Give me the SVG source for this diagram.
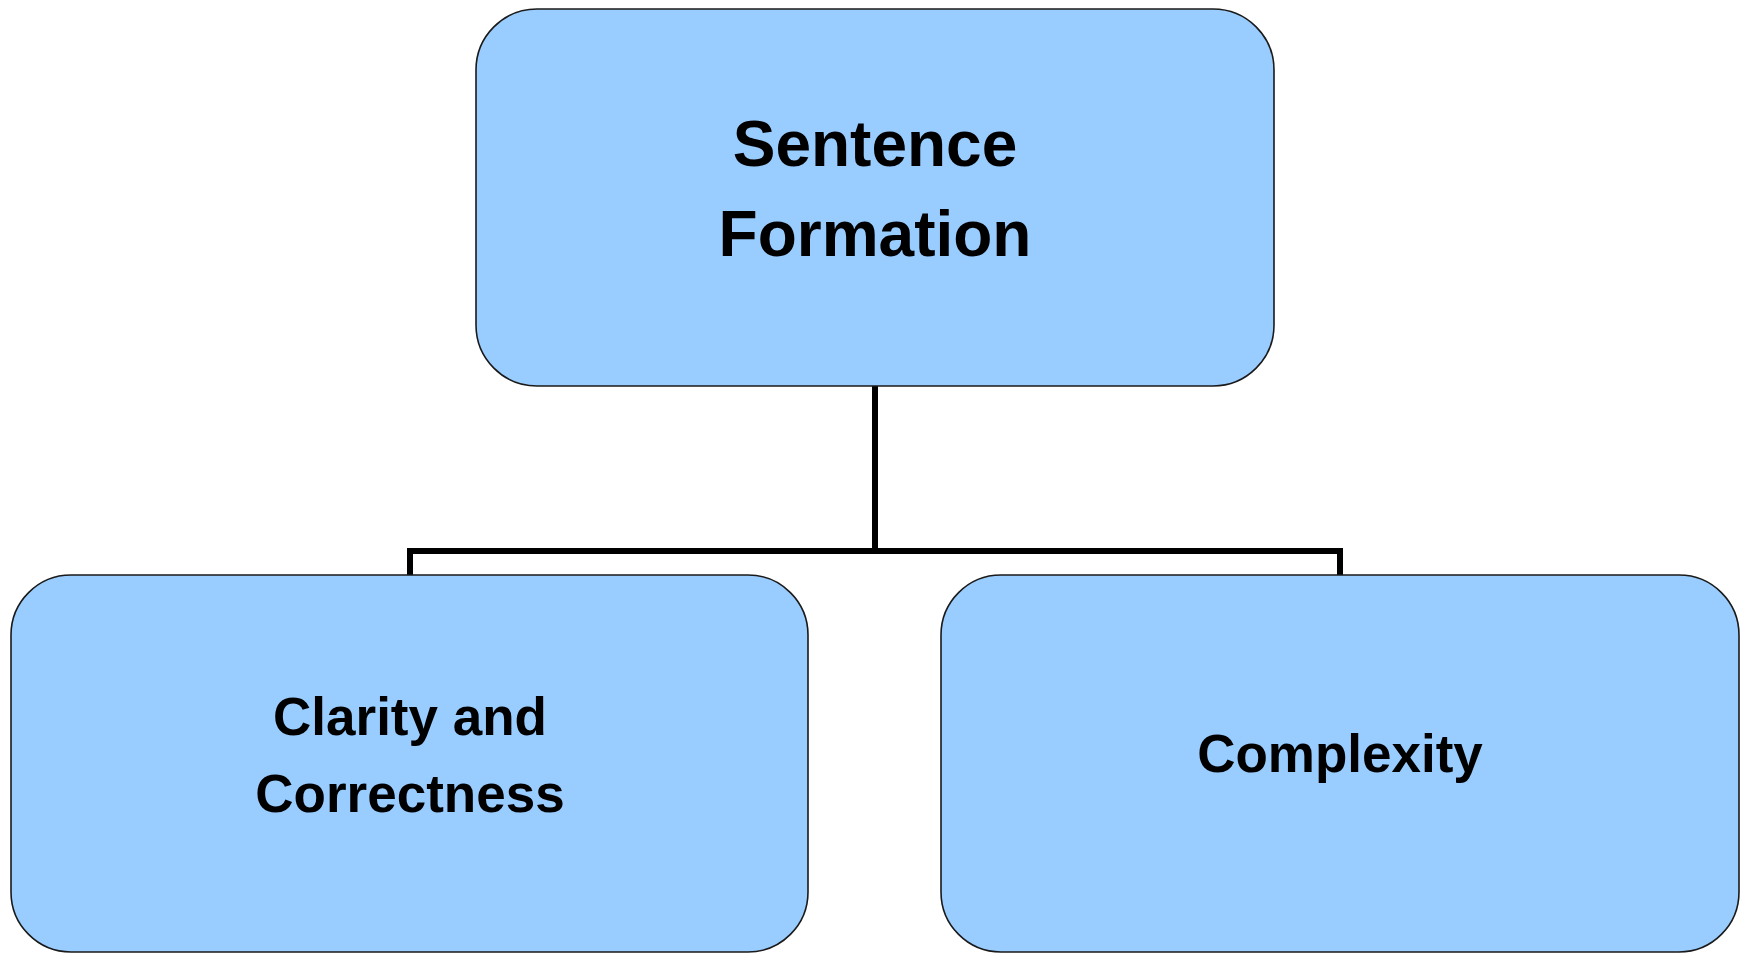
<svg xmlns="http://www.w3.org/2000/svg" width="1749" height="959" viewBox="0 0 1749 959">
  <style>
    .box { fill: #99CCFF; stroke: #1a1a1a; stroke-width: 1.6; }
    .label { font-family: "Liberation Sans", Arial, sans-serif; font-weight: bold; fill: #000; text-anchor: middle; }
    .link { fill: none; stroke: #000; stroke-width: 6; stroke-linejoin: miter; }
  </style>
  <rect x="0" y="0" width="1749" height="959" fill="#ffffff"/>

  <!-- tree connectors: root down to the bus, bus down to each child -->
  <g id="connectors">
    <path class="link" d="M875 386 V551"/>
    <path class="link" d="M410 575 V551 H1340 V575"/>
  </g>

  <g id="node-root">
    <rect class="box" x="476" y="9" width="798" height="377" rx="61" ry="61"/>
    <text class="label" x="875" y="166" font-size="64">Sentence</text>
    <text class="label" x="875" y="256" font-size="64">Formation</text>
  </g>

  <g id="node-clarity">
    <rect class="box" x="11" y="575" width="797" height="377" rx="60" ry="60"/>
    <text class="label" x="410" y="735" font-size="53">Clarity and</text>
    <text class="label" x="410" y="812" font-size="53">Correctness</text>
  </g>

  <g id="node-complexity">
    <rect class="box" x="941" y="575" width="798" height="377" rx="60" ry="60"/>
    <text class="label" x="1340" y="772" font-size="53">Complexity</text>
  </g>
</svg>
